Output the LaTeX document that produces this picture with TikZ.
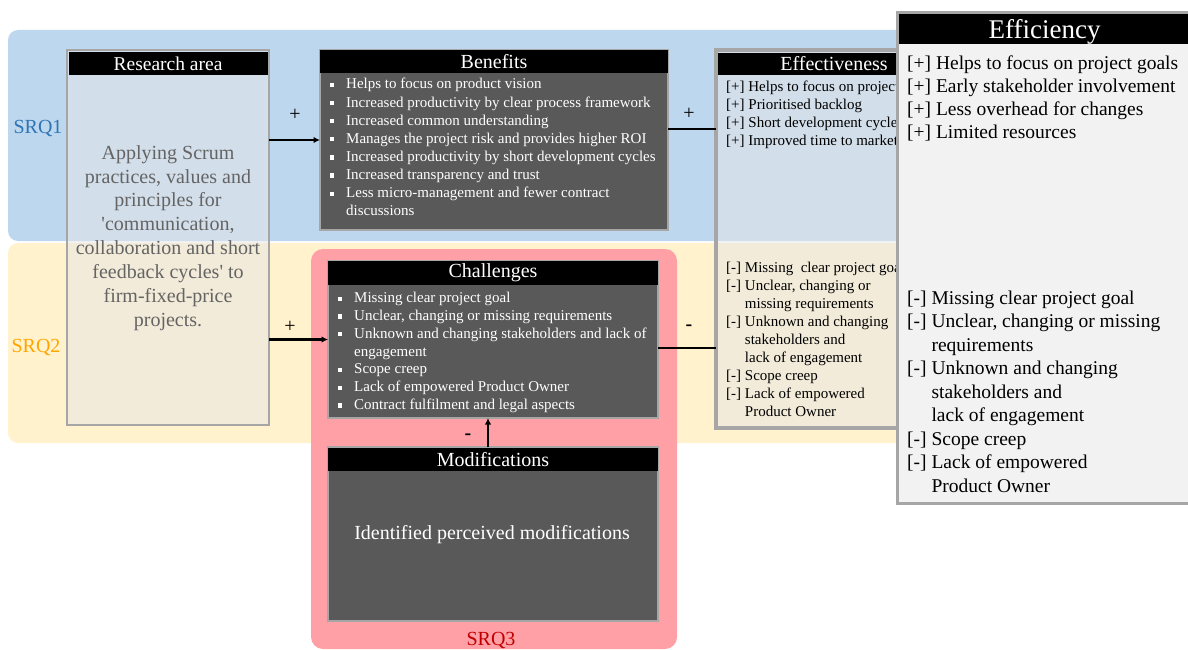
\documentclass[tikz,border=0pt]{standalone}
\usepackage{fontspec}
\setmainfont{Liberation Serif}[Ligatures=TeXOff]
\usetikzlibrary{arrows.meta}

\definecolor{bandblue}{RGB}{189,215,238}
\definecolor{bandyellow}{RGB}{255,242,204}
\definecolor{srqpink}{RGB}{255,160,166}
\definecolor{darkfill}{RGB}{89,89,89}
\definecolor{framegray}{RGB}{166,166,166}
\definecolor{paleveil}{RGB}{231,230,230}
\definecolor{effbg}{RGB}{242,242,242}
\definecolor{srqone}{RGB}{46,117,182}
\definecolor{srqtwo}{RGB}{255,165,0}
\definecolor{srqthree}{RGB}{192,0,0}
\definecolor{softtext}{RGB}{100,100,100}

\newcommand\fs[2]{\fontsize{#1}{#2}\selectfont}
\newcommand\sqbul[1]{\makebox[#1][l]{\rule[1.8pt]{4.2pt}{4.2pt}}}
\newcommand\pro{{[+]}}
\newcommand\con{{[-]}}
\newcommand\hang{\hphantom{\con\ }}

\begin{document}
\begin{tikzpicture}[x=1pt,y=-1pt,
  band/.style={rounded corners=10pt,draw=none},
  panel/.style={anchor=north west,inner sep=0pt,outer sep=0pt},
  darkpanel/.style={panel,fill=darkfill,draw=framegray,line width=1.2pt},
  header/.style={panel,fill=black,text=white},
  itemlist/.style={anchor=north west,inner sep=0pt,align=left},
  link/.style={line width=2.2pt},
  arrowlink/.style={link,-{Latex[length=6.5pt,width=6.5pt]}},
  sign/.style={font=\fs{20}{20}},
  srq/.style={font=\fs{20}{20}}
]
\useasboundingbox (0,0) rectangle (1188,650);

% research question bands
\fill[band,bandblue] (8,30) rectangle (930,241);
\fill[band,bandyellow] (8,243) rectangle (930,443);
\fill[rounded corners=12pt,srqpink] (311,249) rectangle (677,649);

\node[srq,text=srqone] (srq1) at (38,128) {SRQ1};
\node[srq,text=srqtwo] (srq2) at (36,347) {SRQ2};
\node[srq,text=srqthree] (srq3) at (491,640) {SRQ3};

% research area
\node[panel,fill=paleveil,fill opacity=0.5,draw=framegray,draw opacity=1,line width=2.5pt,
      minimum width=202pt,minimum height=375pt] (research) at (67,50) {};
\node[header,minimum width=199pt,minimum height=23pt,font=\fs{19.5}{19.5}] (researchhd) at (68.5,52) {Research area};
\node[align=center,text=softtext,font=\fs{20}{23.9}] (researchtxt) at (168,238)
  {Applying Scrum\\practices, values and\\principles for\\'communication,\\collaboration and short\\feedback cycles' to\\firm-fixed-price\\projects.};

% benefits
\node[darkpanel,minimum width=348pt,minimum height=180pt] (benefits) at (320,50) {};
\node[header,minimum width=348pt,minimum height=23pt,font=\fs{20}{20}] (benefitshd) at (320,50) {Benefits};
\node[itemlist,text=white,font=\fs{15}{18.1}] (benefitslist) at (330,78.2)
  {\sqbul{16pt}Helps to focus on product vision\\
   \sqbul{16pt}Increased productivity by clear process framework\\
   \sqbul{16pt}Increased common understanding\\
   \sqbul{16pt}Manages the project risk and provides higher ROI\\
   \sqbul{16pt}Increased productivity by short development cycles\\
   \sqbul{16pt}Increased transparency and trust\\
   \sqbul{16pt}Less micro-management and fewer contract\\
   \hspace*{16pt}discussions};

% challenges
\node[darkpanel,minimum width=330pt,minimum height=157pt] (challenges) at (328,261) {};
\node[header,minimum width=330pt,minimum height=24pt,font=\fs{20}{20}] (challengeshd) at (328,261) {Challenges};
\node[itemlist,text=white,font=\fs{15}{17.8}] (challengeslist) at (338,292)
  {\sqbul{16pt}Missing clear project goal\\
   \sqbul{16pt}Unclear, changing or missing requirements\\
   \sqbul{16pt}Unknown and changing stakeholders and lack of\\
   \hspace*{16pt}engagement\\
   \sqbul{16pt}Scope creep\\
   \sqbul{16pt}Lack of empowered Product Owner\\
   \sqbul{16pt}Contract fulfilment and legal aspects};

% modifications
\node[darkpanel,minimum width=330pt,minimum height=174pt] (mods) at (328,447) {};
\node[header,minimum width=330pt,minimum height=23pt,font=\fs{20}{20}] (modshd) at (328,448) {Modifications};
\node[text=white,font=\fs{20}{20}] (modstxt) at (492,535) {Identified perceived modifications};

% effectiveness (its right part lies under the efficiency panel)
\node[panel,fill=paleveil,fill opacity=0.5,draw=framegray,draw opacity=1,line width=4pt,
      minimum width=234pt,minimum height=378pt] (eff) at (716,50) {};
\node[header,minimum width=232pt,minimum height=22pt,font=\fs{20}{20}] (effhd) at (718,53) {Effectiveness};
\begin{scope}
\clip (716,50) rectangle (897,430);
\node[itemlist,font=\fs{15}{18}] (effplus) at (726,81)
  {\pro\ Helps to focus on project goals\\
   \pro\ Prioritised backlog\\
   \pro\ Short development cycles\\
   \pro\ Improved time to market};
\node[itemlist,font=\fs{15}{18}] (effminus) at (726,262)
  {\con\ Missing~ clear project goal\\
   \con\ Unclear, changing or\\
   \hang missing requirements\\
   \con\ Unknown and changing\\
   \hang stakeholders and\\
   \hang lack of engagement\\
   \con\ Scope creep\\
   \con\ Lack of empowered\\
   \hang Product Owner};
\end{scope}

% efficiency
\node[panel,fill=effbg,draw=framegray,line width=3pt,
      minimum width=294pt,minimum height=490pt] (effic) at (897,13) {};
\node[header,minimum width=292pt,minimum height=30pt,text height=19pt,text depth=0pt,
      font=\fs{27}{27}] (effichd) at (898.5,14) {Efficiency};
\node[itemlist,font=\fs{19.5}{23}] (efficplus) at (907,55.5)
  {\pro\ Helps to focus on project goals\\
   \pro\ Early stakeholder involvement\\
   \pro\ Less overhead for changes\\
   \pro\ Limited resources};
\node[itemlist,font=\fs{19.5}{23.5}] (efficminus) at (907,290.5)
  {\con\ Missing clear project goal\\
   \con\ Unclear, changing or missing\\
   \hang requirements\\
   \con\ Unknown and changing\\
   \hang stakeholders and\\
   \hang lack of engagement\\
   \con\ Scope creep\\
   \con\ Lack of empowered\\
   \hang Product Owner};

% connectors
\draw[arrowlink] (research.east |- benefits.west) -- (benefits.west);
\draw[arrowlink] (research.east |- challenges.west) -- (challenges.west);
\draw[link] ([yshift=11pt]benefits.east) -- ([yshift=11pt]benefits.east -| eff.west);
\draw[link] ([yshift=-8.5pt]challenges.east) -- ([yshift=-8.5pt]challenges.east -| eff.west);
\draw[arrowlink] ([xshift=-5pt]mods.north) -- ([xshift=-5pt]challenges.south);

% connector signs
\node[sign] (s1) at (295,115) {+};
\node[sign] (s2) at (290,327) {+};
\node[sign] (s3) at (689,114) {+};
\node[sign,font=\bfseries\fs{20}{20}] (s4) at (689,328) {-};
\node[sign,font=\bfseries\fs{20}{20}] (s5) at (468,437) {-};
\end{tikzpicture}
\end{document}
